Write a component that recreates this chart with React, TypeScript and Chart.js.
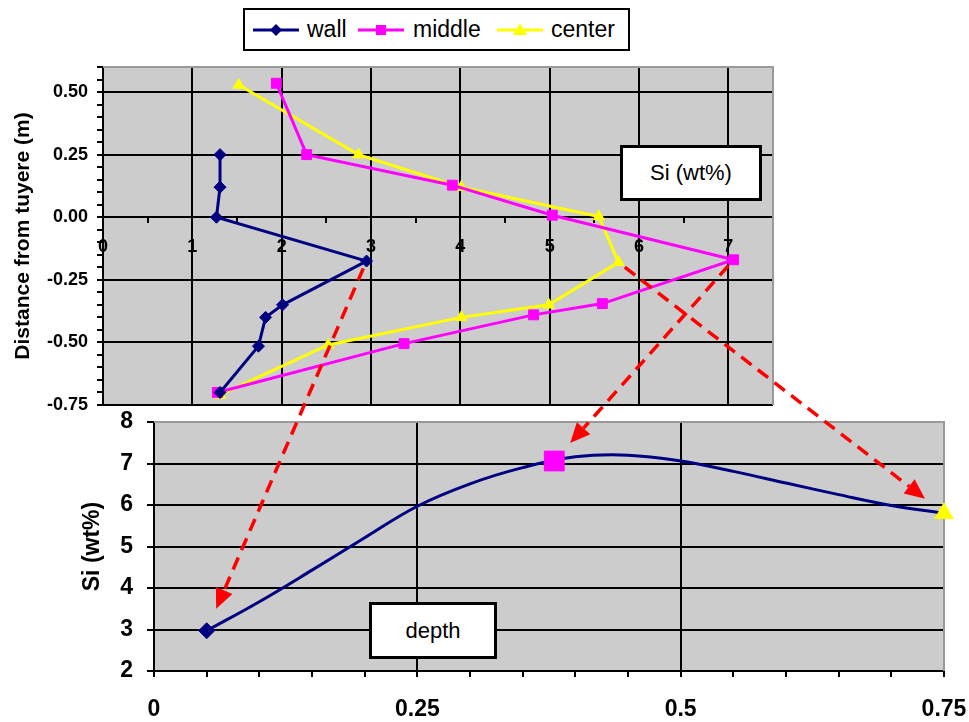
import React, { useEffect, useRef } from 'react';
import { Chart, registerables } from 'chart.js';
Chart.register(...registerables);

// ---------- top chart data: Si (wt%) vs distance from tuyere (m) ----------
const seriesNames = ['wall', 'middle', 'center'];
const seriesColors = ['#000080', '#FF00FF', '#FFFF00'];
const wallSi = [1.31, 1.31, 1.27, 2.95, 2.01, 1.82, 1.74, 1.31];
const wallDist = [0.25, 0.12, 0.0, -0.175, -0.35, -0.4, -0.515, -0.7];
const middleSi = [1.94, 2.28, 3.91, 5.03, 7.06, 5.59, 4.82, 3.37, 1.28];
const middleDist = [0.535, 0.25, 0.128, 0.008, -0.17, -0.345, -0.39, -0.505, -0.7];
const centerSi = [1.52, 2.86, 4.01, 5.55, 5.77, 4.99, 4.01, 2.52, 1.31];
const centerDist = [0.528, 0.25, 0.12, 0.003, -0.18, -0.35, -0.4, -0.51, -0.71];
// index of each series' point that an arrow starts from
const arrowFromIndex = [3, 4, 4];

// ---------- bottom chart data: Si (wt%) vs depth ----------
const depthX = [0.05, 0.1, 0.15, 0.2, 0.25, 0.3, 0.35, 0.4, 0.45, 0.5, 0.55, 0.6, 0.65, 0.7, 0.75];
const depthSi = [2.97, 3.67, 4.43, 5.21, 5.97, 6.51, 6.9, 7.16, 7.2, 7.06, 6.81, 6.53, 6.25, 5.99, 5.8];
const markerDepth = [0.05, 0.38, 0.75];
const markerSi = [2.97, 7.06, 5.8];

const FONT = "'Liberation Sans', Arial, sans-serif";

function isMultiple(v: number, step: number) {
  const r = Math.round(v / step) * step;
  return Math.abs(v - r) < 1e-6;
}

const plotFrame = {
  id: 'plotFrame',
  beforeDraw(chart: any) {
    const { ctx, chartArea: a } = chart;
    ctx.save();
    ctx.fillStyle = '#cccccc';
    ctx.fillRect(a.left, a.top, a.right - a.left, a.bottom - a.top);
    ctx.restore();
  },
  beforeDatasetsDraw(chart: any) {
    const { ctx, chartArea: a } = chart;
    ctx.save();
    ctx.strokeStyle = '#999999';
    ctx.lineWidth = 2;
    ctx.beginPath();
    ctx.moveTo(a.left, a.top);
    ctx.lineTo(a.right, a.top);
    ctx.lineTo(a.right, a.bottom);
    ctx.stroke();
    ctx.restore();
  },
};

function drawArrow(ctx: CanvasRenderingContext2D, x1: number, y1: number, x2: number, y2: number) {
  const dx = x2 - x1;
  const dy = y2 - y1;
  const len = Math.hypot(dx, dy);
  const ux = dx / len;
  const uy = dy / len;
  const sx = x1 + ux * 8;
  const sy = y1 + uy * 8;
  const tx = x2 - ux * 24;
  const ty = y2 - uy * 24;
  const head = 20;
  const half = 9;
  const bx = tx - ux * head;
  const by = ty - uy * head;
  ctx.save();
  ctx.strokeStyle = '#FF0000';
  ctx.fillStyle = '#FF0000';
  ctx.lineWidth = 3.5;
  ctx.setLineDash([13, 8]);
  ctx.beginPath();
  ctx.moveTo(sx, sy);
  ctx.lineTo(bx, by);
  ctx.stroke();
  ctx.setLineDash([]);
  ctx.beginPath();
  ctx.moveTo(tx, ty);
  ctx.lineTo(bx - uy * half, by + ux * half);
  ctx.lineTo(bx + uy * half, by - ux * half);
  ctx.closePath();
  ctx.fill();
  ctx.restore();
}

const LegendIcon = ({ color, shape }: { color: string; shape: string }) => (
  <svg width="46" height="18" style={{ display: 'block' }}>
    <line x1="0" y1="9" x2="46" y2="9" stroke={color} strokeWidth="3" />
    {shape === 'diamond' && <polygon points="23,3 29,9 23,15 17,9" fill={color} />}
    {shape === 'square' && <rect x="18" y="4" width="10" height="10" fill={color} />}
    {shape === 'triangle' && <polygon points="23,2 30,14 16,14" fill={color} />}
  </svg>
);

export default function App() {
  const topRef = useRef<HTMLCanvasElement>(null);
  const botRef = useRef<HTMLCanvasElement>(null);
  const arrowRef = useRef<HTMLCanvasElement>(null);

  useEffect(() => {
    Chart.defaults.font.family = FONT;
    Chart.defaults.color = '#000';

    const mk = (xs: number[], ys: number[]) => xs.map((x, i) => ({ x, y: ys[i] }));
    const styles = ['rectRot', 'rect', 'triangle'];
    const radii = [6, 7, 6.5];
    const topData = [mk(wallSi, wallDist), mk(middleSi, middleDist), mk(centerSi, centerDist)];

    const top = new Chart(topRef.current!, {
      type: 'scatter',
      data: {
        datasets: topData.map((d, i) => ({
          label: seriesNames[i],
          data: d,
          showLine: true,
          borderColor: seriesColors[i],
          backgroundColor: seriesColors[i],
          borderWidth: 3,
          pointStyle: styles[i],
          pointRadius: radii[i],
          pointBorderWidth: 1,
          tension: 0,
          clip: false,
        })),
      },
      options: {
        responsive: false,
        animation: false,
        events: [],
        layout: { padding: { left: 0, top: 67, right: 196, bottom: 317 } },
        plugins: { legend: { display: false }, tooltip: { enabled: false } },
        scales: {
          x: {
            type: 'linear',
            position: { y: 0 } as any,
            min: 0,
            max: 7.5,
            afterFit: (s: any) => { s.paddingLeft = 0; s.paddingRight = 0; },
            ticks: {
              stepSize: 0.5,
              maxTicksLimit: 1000,
              autoSkip: false,
              maxRotation: 0,
              padding: 14,
              font: { size: 18, weight: 'bold' },
              callback: (v: any) => (isMultiple(v, 1) ? String(Math.round(v)) : ''),
            },
            grid: {
              color: (c: any) => {
                const v = c.tick ? c.tick.value : 0;
                return isMultiple(v, 1) && v > 0 && v < 7.5 ? '#000' : 'rgba(0,0,0,0)';
              },
              tickColor: '#000',
              lineWidth: 2,
              tickLength: 5,
            },
            border: { color: '#000', width: 2 },
          },
          y: {
            type: 'linear',
            position: 'left',
            min: -0.75,
            max: 0.6,
            afterFit: (s: any) => { s.width = 103; s.paddingTop = 0; s.paddingBottom = 0; },
            ticks: {
              stepSize: 0.05,
              maxTicksLimit: 1000,
              autoSkip: false,
              padding: 9,
              font: { size: 18, weight: 'bold' },
              callback: (v: any) => {
                if (!isMultiple(v, 0.25)) return '';
                const r = Math.round(v * 4) / 4;
                return (r === 0 ? 0 : r).toFixed(2);
              },
            },
            grid: {
              color: (c: any) => {
                const v = c.tick ? c.tick.value : 0;
                return isMultiple(v, 0.25) ? '#000' : 'rgba(0,0,0,0)';
              },
              tickColor: '#000',
              lineWidth: 2,
              tickLength: 6,
            },
            border: { color: '#000', width: 2 },
            title: {
              display: true,
              text: 'Distance from tuyere (m)',
              font: { size: 21, weight: 'bold' },
              padding: { top: 11, bottom: 0 },
            },
          },
        },
      } as any,
      plugins: [plotFrame],
    });

    const bot = new Chart(botRef.current!, {
      type: 'scatter',
      data: {
        datasets: [
          {
            label: 'wall',
            data: [{ x: markerDepth[0], y: markerSi[0] }],
            pointStyle: 'rectRot',
            pointRadius: 8,
            backgroundColor: seriesColors[0],
            borderColor: seriesColors[0],
            clip: false,
          },
          {
            label: 'middle',
            data: [{ x: markerDepth[1], y: markerSi[1] }],
            pointStyle: 'rect',
            pointRadius: 14,
            backgroundColor: seriesColors[1],
            borderColor: seriesColors[1],
            clip: false,
          },
          {
            label: 'center',
            data: [{ x: markerDepth[2], y: markerSi[2] }],
            pointStyle: 'triangle',
            pointRadius: 10.5,
            backgroundColor: seriesColors[2],
            borderColor: seriesColors[2],
            clip: false,
          },
          {
            label: 'Si',
            data: mk(depthX, depthSi),
            showLine: true,
            borderColor: '#000080',
            borderWidth: 3,
            pointRadius: 0,
            tension: 0.4,
            clip: false,
          },
        ],
      },
      options: {
        responsive: false,
        animation: false,
        events: [],
        layout: { padding: { left: 0, top: 422, right: 25, bottom: 0 } },
        plugins: { legend: { display: false }, tooltip: { enabled: false } },
        scales: {
          x: {
            type: 'linear',
            position: 'bottom',
            min: 0,
            max: 0.75,
            afterFit: (s: any) => { s.height = 51; s.paddingLeft = 0; s.paddingRight = 0; },
            ticks: {
              stepSize: 0.05,
              maxTicksLimit: 1000,
              autoSkip: false,
              maxRotation: 0,
              padding: 19,
              font: { size: 23, weight: 'bold' },
              callback: (v: any) => {
                if (!isMultiple(v, 0.25)) return '';
                const r = Math.round(v * 4) / 4;
                return String(r);
              },
            },
            grid: {
              color: (c: any) => {
                const v = c.tick ? c.tick.value : 0;
                if (Math.abs(v - 0.75) < 1e-6) return '#999999';
                return isMultiple(v, 0.25) && v > 1e-6 ? '#000' : 'rgba(0,0,0,0)';
              },
              tickColor: '#000',
              lineWidth: 2,
              tickLength: 6,
            },
            border: { color: '#000', width: 2 },
          },
          y: {
            type: 'linear',
            position: 'left',
            min: 2,
            max: 8,
            afterFit: (s: any) => { s.width = 154; s.paddingTop = 0; s.paddingBottom = 0; },
            ticks: {
              stepSize: 1,
              padding: 14,
              font: { size: 23, weight: 'bold' },
            },
            grid: {
              color: (c: any) => {
                const v = c.tick ? c.tick.value : 0;
                return v === 8 ? '#999999' : '#000';
              },
              tickColor: '#000',
              lineWidth: 2,
              tickLength: 7,
            },
            border: { color: '#000', width: 2 },
            title: {
              display: true,
              text: 'Si (wt%)',
              font: { size: 23, weight: 'bold' },
              padding: { top: 79, bottom: 0 },
            },
          },
        },
      } as any,
      plugins: [plotFrame],
    });

    const actx = arrowRef.current!.getContext('2d')!;
    actx.clearRect(0, 0, 969, 722);
    arrowFromIndex.forEach((idx, i) => {
      const p = topData[i][idx];
      const x1 = top.scales.x.getPixelForValue(p.x);
      const y1 = top.scales.y.getPixelForValue(p.y);
      const x2 = bot.scales.x.getPixelForValue(markerDepth[i]);
      const y2 = bot.scales.y.getPixelForValue(markerSi[i]);
      drawArrow(actx, x1, y1, x2, y2);
    });

    return () => {
      top.destroy();
      bot.destroy();
    };
  }, []);

  const abs = (l: number, t: number, w: number, h: number): React.CSSProperties => ({
    position: 'absolute', left: l, top: t, width: w, height: h,
  });

  return (
    <div style={{ position: 'absolute', left: 0, top: 0, width: 969, height: 722, background: '#fff', fontFamily: FONT, overflow: 'hidden' }}>
      <canvas ref={topRef} width={969} height={722} style={abs(0, 0, 969, 722)} />
      <canvas ref={botRef} width={969} height={722} style={abs(0, 0, 969, 722)} />

      {/* legend */}
      <div style={{ ...abs(243, 8, 387, 43), boxSizing: 'border-box', border: '2px solid #000', background: '#fff' }}>
        {[
          { icon: 8, text: 62, shape: 'diamond' },
          { icon: 113, text: 168, shape: 'square' },
          { icon: 252, text: 306, shape: 'triangle' },
        ].map((it, i) => (
          <React.Fragment key={i}>
            <div style={{ position: 'absolute', left: it.icon, top: 11 }}>
              <LegendIcon color={seriesColors[i]} shape={it.shape} />
            </div>
            <div style={{ position: 'absolute', left: it.text, top: 6, fontSize: 23, lineHeight: '26px', color: '#000' }}>
              {seriesNames[i]}
            </div>
          </React.Fragment>
        ))}
      </div>

      <div style={{ ...abs(620, 145, 142, 56), boxSizing: 'border-box', border: '3px solid #000', background: '#fff', display: 'flex', alignItems: 'center', justifyContent: 'center', fontSize: 22 }}>
        Si (wt%)
      </div>
      <div style={{ ...abs(369, 602, 128, 57), boxSizing: 'border-box', border: '3px solid #000', background: '#fff', display: 'flex', alignItems: 'center', justifyContent: 'center', fontSize: 22 }}>
        depth
      </div>

      <canvas ref={arrowRef} width={969} height={722} style={{ ...abs(0, 0, 969, 722), pointerEvents: 'none' }} />
    </div>
  );
}
